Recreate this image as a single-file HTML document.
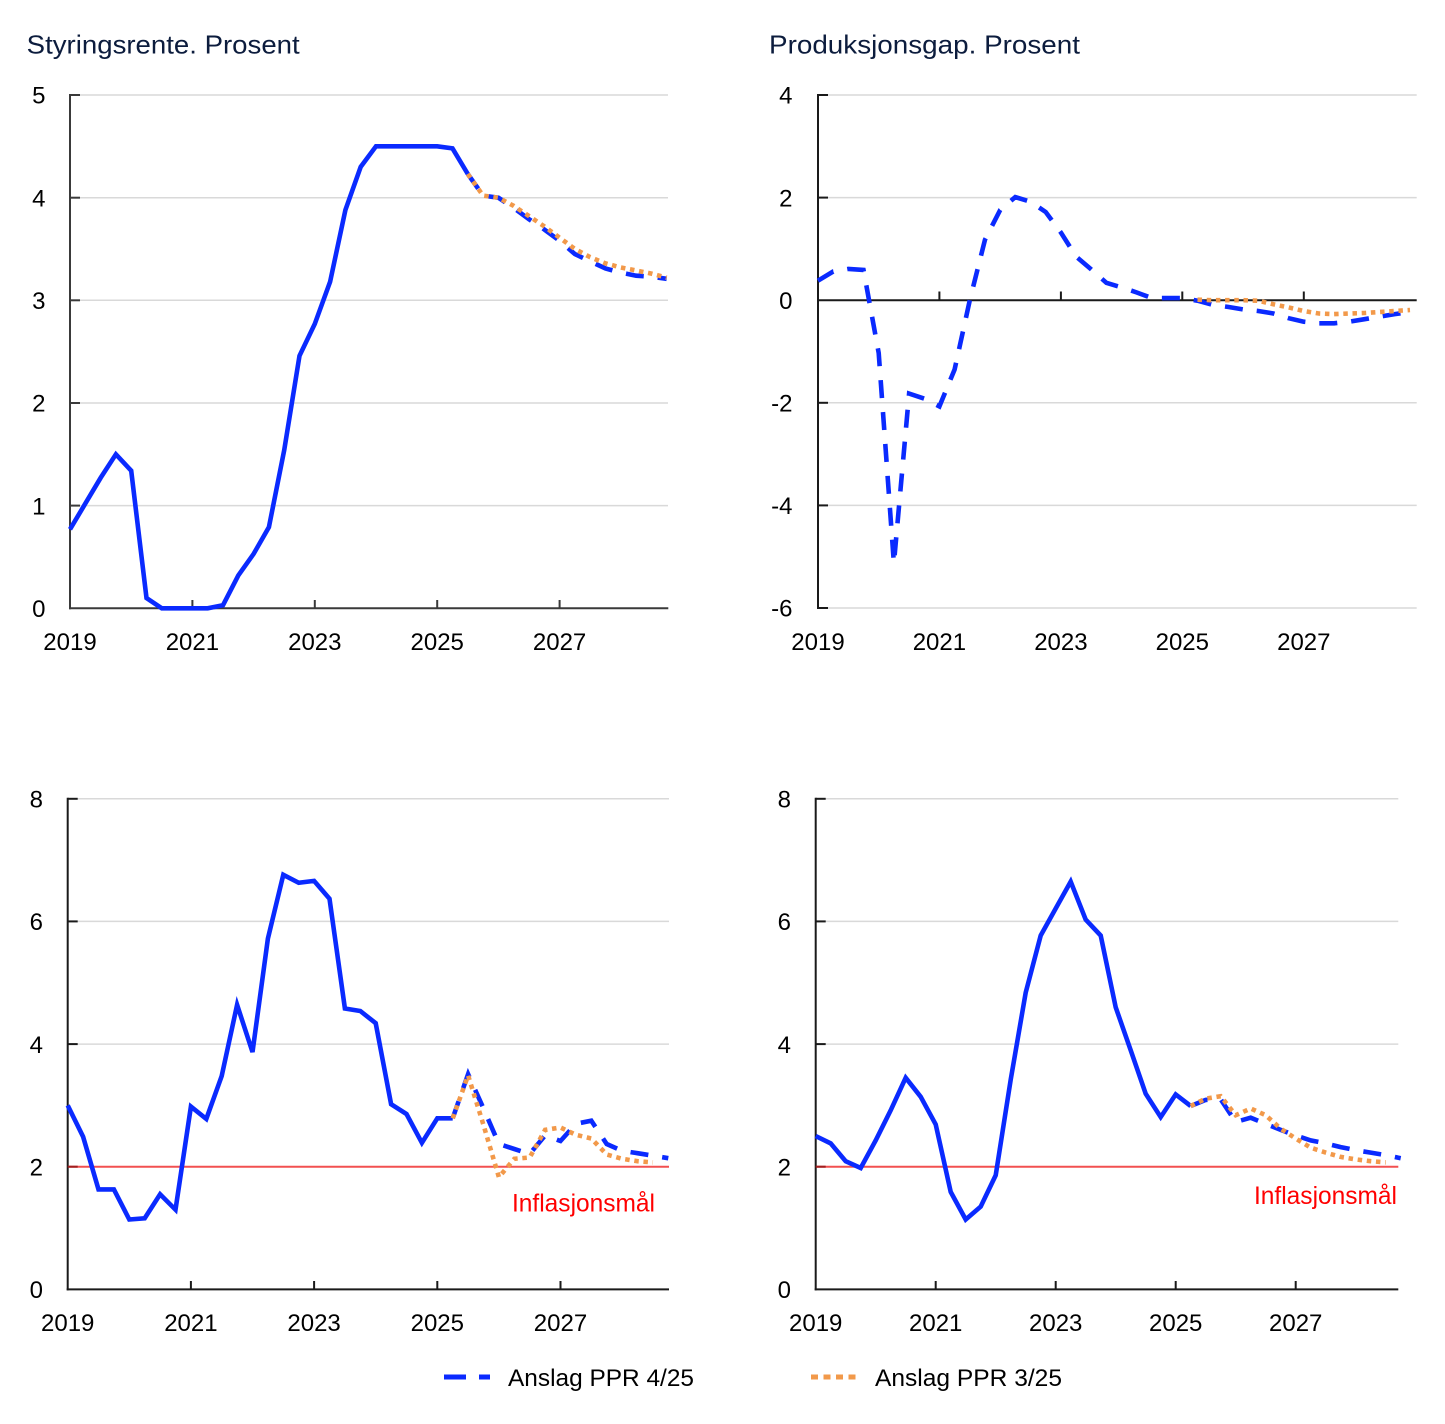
<!DOCTYPE html>
<html>
<head>
<meta charset="utf-8">
<style>
html,body{margin:0;padding:0;background:#fff;}
svg{display:block;}
text{font-family:"Liberation Sans",Arial,sans-serif;}
</style>
</head>
<body>
<svg width="1445" height="1424" viewBox="0 0 1445 1424" xmlns="http://www.w3.org/2000/svg">
<rect x="0" y="0" width="1445" height="1424" fill="#fff"/>

<!-- ============ PANEL 1 ============ -->
<text x="26.7" y="53.3" font-size="26" fill="#0c1c3d" textLength="273" lengthAdjust="spacingAndGlyphs">Styringsrente. Prosent</text>
<g stroke="#d9d9d9" stroke-width="1.5">
<line x1="70" y1="505.6" x2="668" y2="505.6"/>
<line x1="70" y1="403.0" x2="668" y2="403.0"/>
<line x1="70" y1="300.3" x2="668" y2="300.3"/>
<line x1="70" y1="197.7" x2="668" y2="197.7"/>
<line x1="70" y1="95.0" x2="668" y2="95.0"/>
</g>
<g stroke="#3a3a3a" stroke-width="2">
<line x1="70" y1="94" x2="70" y2="609.3"/>
<line x1="69" y1="608.3" x2="668.3" y2="608.3"/>
<line x1="70" y1="505.6" x2="80" y2="505.6"/>
<line x1="70" y1="403.0" x2="80" y2="403.0"/>
<line x1="70" y1="300.3" x2="80" y2="300.3"/>
<line x1="70" y1="197.7" x2="80" y2="197.7"/>
<line x1="70" y1="95.0" x2="80" y2="95.0"/>
<line x1="192.4" y1="600" x2="192.4" y2="608.3"/>
<line x1="314.8" y1="600" x2="314.8" y2="608.3"/>
<line x1="437.2" y1="600" x2="437.2" y2="608.3"/>
<line x1="559.6" y1="600" x2="559.6" y2="608.3"/>
</g>
<g font-size="24" fill="#000" text-anchor="end">
<text x="45.5" y="617">0</text>
<text x="45.5" y="514.3">1</text>
<text x="45.5" y="411.7">2</text>
<text x="45.5" y="309">3</text>
<text x="45.5" y="206.4">4</text>
<text x="45.5" y="103.7">5</text>
</g>
<g font-size="24" fill="#000" text-anchor="middle">
<text x="70" y="650">2019</text>
<text x="192.4" y="650">2021</text>
<text x="314.8" y="650">2023</text>
<text x="437.2" y="650">2025</text>
<text x="559.6" y="650">2027</text>
</g>
<g fill="none" stroke-width="4.6" stroke-miterlimit="4">
<polyline stroke="#0a2aff" points="70,529.3 85.3,503.6 100.6,477.9 115.9,454.3 131.2,470.7 146.5,598.0 161.8,608.3 177.1,608.3 192.4,608.3 207.7,608.3 223,605.2 238.3,575.4 253.6,553.9 268.9,527.2 284.2,450.2 299.5,355.8 314.8,323.9 330.1,281.8 345.4,210.0 360.7,166.9 376,146.3 391.3,146.3 406.6,146.3 421.9,146.3 437.2,146.3 452.5,148.4 467.8,174.0"/>
<polyline stroke="#0a2aff" stroke-dasharray="18 14" points="467.8,174.0 483.1,195.6 498.4,197.7 513.7,207.9 529,219.2 544.3,229.5 559.6,240.8 574.9,254.1 590.2,261.3 605.5,268.5 620.8,272.6 636.1,275.7 651.4,276.7 666.7,278.8"/>
<polyline stroke="#f2994a" stroke-dasharray="4.5 4.7" points="467.8,174.0 483.1,195.6 498.4,197.7 513.7,205.9 529,216.1 544.3,226.4 559.6,237.7 574.9,249.0 590.2,257.2 605.5,263.4 620.8,267.5 636.1,270.5 651.4,273.6 666.7,277.7"/>
</g>

<!-- ============ PANEL 2 ============ -->
<text x="769" y="53.3" font-size="26" fill="#0c1c3d" textLength="311" lengthAdjust="spacingAndGlyphs">Produksjonsgap. Prosent</text>
<g stroke="#d9d9d9" stroke-width="1.5">
<line x1="818" y1="95.0" x2="1416.7" y2="95.0"/>
<line x1="818" y1="197.6" x2="1416.7" y2="197.6"/>
<line x1="818" y1="402.8" x2="1416.7" y2="402.8"/>
<line x1="818" y1="505.4" x2="1416.7" y2="505.4"/>
<line x1="818" y1="608.0" x2="1416.7" y2="608.0"/>
</g>
<g stroke="#1a1a1a" stroke-width="2">
<line x1="818" y1="94" x2="818" y2="609"/>
<line x1="818" y1="300.2" x2="1416.7" y2="300.2"/>
<line x1="818" y1="95.0" x2="828" y2="95.0"/>
<line x1="818" y1="197.6" x2="828" y2="197.6"/>
<line x1="818" y1="402.8" x2="828" y2="402.8"/>
<line x1="818" y1="505.4" x2="828" y2="505.4"/>
<line x1="818" y1="608.0" x2="828" y2="608.0"/>
<line x1="939.4" y1="291.5" x2="939.4" y2="300.2"/>
<line x1="1060.9" y1="291.5" x2="1060.9" y2="300.2"/>
<line x1="1182.3" y1="291.5" x2="1182.3" y2="300.2"/>
<line x1="1303.8" y1="291.5" x2="1303.8" y2="300.2"/>
</g>
<g font-size="24" fill="#000" text-anchor="end">
<text x="792.5" y="103.7">4</text>
<text x="792.5" y="206.3">2</text>
<text x="792.5" y="308.9">0</text>
<text x="792.5" y="411.5">-2</text>
<text x="792.5" y="514.1">-4</text>
<text x="792.5" y="616.7">-6</text>
</g>
<g font-size="24" fill="#000" text-anchor="middle">
<text x="818" y="650">2019</text>
<text x="939.4" y="650">2021</text>
<text x="1060.9" y="650">2023</text>
<text x="1182.3" y="650">2025</text>
<text x="1303.8" y="650">2027</text>
</g>
<g fill="none" stroke-width="4.6" stroke-miterlimit="4">
<polyline stroke="#0a2aff" stroke-dasharray="18 14" points="818,280.7 833.2,271.5 848.4,268.9 863.5,269.9 878.7,353.0 893.9,563.4 909.1,393.6 924.3,398.7 939.4,406.4 954.6,369.5 969.8,300.2 985.0,239.7 1000.2,209.9 1015.3,197.1 1030.5,201.7 1045.7,212.0 1060.9,232.5 1076.1,256.6 1091.2,269.4 1106.4,282.8 1121.6,287.4 1136.8,292.5 1152.0,298.1 1167.1,298.1 1182.3,298.1 1197.5,300.7 1212.7,304.8 1227.9,306.9 1243.0,309.4 1258.2,311.0 1273.4,313.5 1288.6,318.2 1303.8,321.7 1318.9,323.3 1334.1,323.3 1349.3,321.7 1364.5,319.2 1379.7,316.6 1394.8,314.1 1410.0,312.0"/>
<polyline stroke="#f2994a" stroke-dasharray="4.5 4.7" points="1197.5,299.7 1212.7,300.2 1227.9,300.2 1243.0,300.2 1258.2,300.7 1273.4,304.3 1288.6,307.4 1303.8,311.0 1318.9,313.5 1334.1,314.1 1349.3,313.5 1364.5,313.0 1379.7,312.0 1394.8,311.0 1410.0,310.0"/>
</g>

<!-- ============ PANEL 3 ============ -->
<g stroke="#d9d9d9" stroke-width="1.5">
<line x1="67.7" y1="1044.1" x2="669" y2="1044.1"/>
<line x1="67.7" y1="921.4" x2="669" y2="921.4"/>
<line x1="67.7" y1="798.8" x2="669" y2="798.8"/>
</g>
<line x1="67.7" y1="1166.7" x2="669" y2="1166.7" stroke="#f25050" stroke-width="2"/>
<g stroke="#1a1a1a" stroke-width="2">
<line x1="67.7" y1="797.8" x2="67.7" y2="1290.4"/>
<line x1="66.7" y1="1289.4" x2="669" y2="1289.4"/>
<line x1="67.7" y1="1044.1" x2="77.7" y2="1044.1"/>
<line x1="67.7" y1="921.4" x2="77.7" y2="921.4"/>
<line x1="67.7" y1="798.8" x2="77.7" y2="798.8"/>
<line x1="190.9" y1="1281" x2="190.9" y2="1289.4"/>
<line x1="314.1" y1="1281" x2="314.1" y2="1289.4"/>
<line x1="437.3" y1="1281" x2="437.3" y2="1289.4"/>
<line x1="560.5" y1="1281" x2="560.5" y2="1289.4"/>
</g>
<line x1="67.7" y1="1166.7" x2="77.7" y2="1166.7" stroke="#a02020" stroke-width="2"/>
<g font-size="24" fill="#000" text-anchor="end">
<text x="43" y="1298.1">0</text>
<text x="43" y="1175.4">2</text>
<text x="43" y="1052.8">4</text>
<text x="43" y="930.1">6</text>
<text x="43" y="807.5">8</text>
</g>
<g font-size="24" fill="#000" text-anchor="middle">
<text x="67.7" y="1331">2019</text>
<text x="190.9" y="1331">2021</text>
<text x="314.1" y="1331">2023</text>
<text x="437.3" y="1331">2025</text>
<text x="560.5" y="1331">2027</text>
</g>
<text x="512" y="1211.5" font-size="25" fill="#ff0000" textLength="143" lengthAdjust="spacingAndGlyphs">Inflasjonsmål</text>
<g fill="none" stroke-width="4.6" stroke-miterlimit="4">
<polyline stroke="#0a2aff" points="67.7,1105.4 83.1,1136.7 98.5,1189.4 113.9,1189.4 129.3,1219.5 144.7,1218.3 160.1,1194.3 175.5,1209.7 190.9,1106.6 206.3,1118.9 221.7,1076.0 237.1,1004.8 252.5,1052.1 267.9,938.6 283.3,874.8 298.7,882.8 314.1,880.9 329.5,898.7 344.9,1008.5 360.3,1011.0 375.7,1023.2 391.1,1104.2 406.5,1114.0 421.9,1142.8 437.3,1118.3 452.7,1118.3"/>
<polyline stroke="#0a2aff" stroke-dasharray="18 14" points="452.7,1118.3 468.1,1074.1 483.5,1108.5 498.9,1144.0 514.3,1149.0 529.7,1153.9 545.1,1135.5 560.5,1141.0 575.9,1123.8 591.3,1120.7 606.7,1144.0 622.1,1150.8 637.5,1153.2 652.9,1155.7 668.3,1158.2"/>
<polyline stroke="#f2994a" stroke-dasharray="4.5 4.7" points="452.7,1118.3 468.1,1075.4 483.5,1125.0 498.9,1177.2 514.3,1158.8 529.7,1157.5 545.1,1129.9 560.5,1127.5 575.9,1134.8 591.3,1138.5 606.7,1154.5 622.1,1158.8 637.5,1161.2 652.9,1162.4"/>
</g>

<!-- ============ PANEL 4 ============ -->
<g stroke="#d9d9d9" stroke-width="1.5">
<line x1="815.7" y1="1044.1" x2="1398.3" y2="1044.1"/>
<line x1="815.7" y1="921.4" x2="1398.3" y2="921.4"/>
<line x1="815.7" y1="798.8" x2="1398.3" y2="798.8"/>
</g>
<line x1="815.7" y1="1166.7" x2="1398.3" y2="1166.7" stroke="#f25050" stroke-width="2"/>
<g stroke="#1a1a1a" stroke-width="2">
<line x1="815.7" y1="797.8" x2="815.7" y2="1290.4"/>
<line x1="814.7" y1="1289.4" x2="1398.3" y2="1289.4"/>
<line x1="815.7" y1="1044.1" x2="825.7" y2="1044.1"/>
<line x1="815.7" y1="921.4" x2="825.7" y2="921.4"/>
<line x1="815.7" y1="798.8" x2="825.7" y2="798.8"/>
<line x1="935.7" y1="1281" x2="935.7" y2="1289.4"/>
<line x1="1055.7" y1="1281" x2="1055.7" y2="1289.4"/>
<line x1="1175.7" y1="1281" x2="1175.7" y2="1289.4"/>
<line x1="1295.7" y1="1281" x2="1295.7" y2="1289.4"/>
</g>
<line x1="815.7" y1="1166.7" x2="825.7" y2="1166.7" stroke="#a02020" stroke-width="2"/>
<g font-size="24" fill="#000" text-anchor="end">
<text x="791" y="1298.1">0</text>
<text x="791" y="1175.4">2</text>
<text x="791" y="1052.8">4</text>
<text x="791" y="930.1">6</text>
<text x="791" y="807.5">8</text>
</g>
<g font-size="24" fill="#000" text-anchor="middle">
<text x="815.7" y="1331">2019</text>
<text x="935.7" y="1331">2021</text>
<text x="1055.7" y="1331">2023</text>
<text x="1175.7" y="1331">2025</text>
<text x="1295.7" y="1331">2027</text>
</g>
<text x="1254" y="1204" font-size="25" fill="#ff0000" textLength="143" lengthAdjust="spacingAndGlyphs">Inflasjonsmål</text>
<g fill="none" stroke-width="4.6" stroke-miterlimit="4">
<polyline stroke="#0a2aff" points="815.7,1136.1 830.7,1143.4 845.7,1161.2 860.7,1168.0 875.7,1140.4 890.7,1110.3 905.7,1077.8 920.7,1096.8 935.7,1124.4 950.7,1191.9 965.7,1219.5 980.7,1206.6 995.7,1175.3 1010.7,1079.7 1025.7,992.6 1040.7,935.5 1055.7,908.5 1070.7,881.6 1085.7,919.6 1100.7,935.5 1115.7,1007.3 1130.7,1050.2 1145.7,1093.8 1160.7,1117.1 1175.7,1094.4 1190.7,1106.0"/>
<polyline stroke="#0a2aff" stroke-dasharray="18 14" points="1190.7,1106.0 1205.7,1099.9 1220.7,1099.3 1235.7,1122.0 1250.7,1117.7 1265.7,1123.8 1280.7,1129.9 1295.7,1135.5 1310.7,1140.4 1325.7,1143.4 1340.7,1147.1 1355.7,1150.2 1370.7,1152.6 1385.7,1155.1 1400.7,1158.2"/>
<polyline stroke="#f2994a" stroke-dasharray="4.5 4.7" points="1190.7,1106.0 1205.7,1098.7 1220.7,1096.2 1235.7,1115.2 1250.7,1108.5 1265.7,1115.2 1280.7,1128.7 1295.7,1138.5 1310.7,1147.7 1325.7,1152.6 1340.7,1156.9 1355.7,1159.4 1370.7,1161.2 1385.7,1162.4"/>
</g>

<!-- ============ LEGEND ============ -->
<line x1="444" y1="1377" x2="490" y2="1377" stroke="#0a2aff" stroke-width="5" stroke-dasharray="22 13"/>
<text x="508" y="1386" font-size="24.5" fill="#000" textLength="186" lengthAdjust="spacingAndGlyphs">Anslag PPR 4/25</text>
<line x1="811" y1="1377" x2="856" y2="1377" stroke="#f2994a" stroke-width="5" stroke-dasharray="7 5.5"/>
<text x="875" y="1386" font-size="24.5" fill="#000" textLength="187" lengthAdjust="spacingAndGlyphs">Anslag PPR 3/25</text>
</svg>
</body>
</html>
